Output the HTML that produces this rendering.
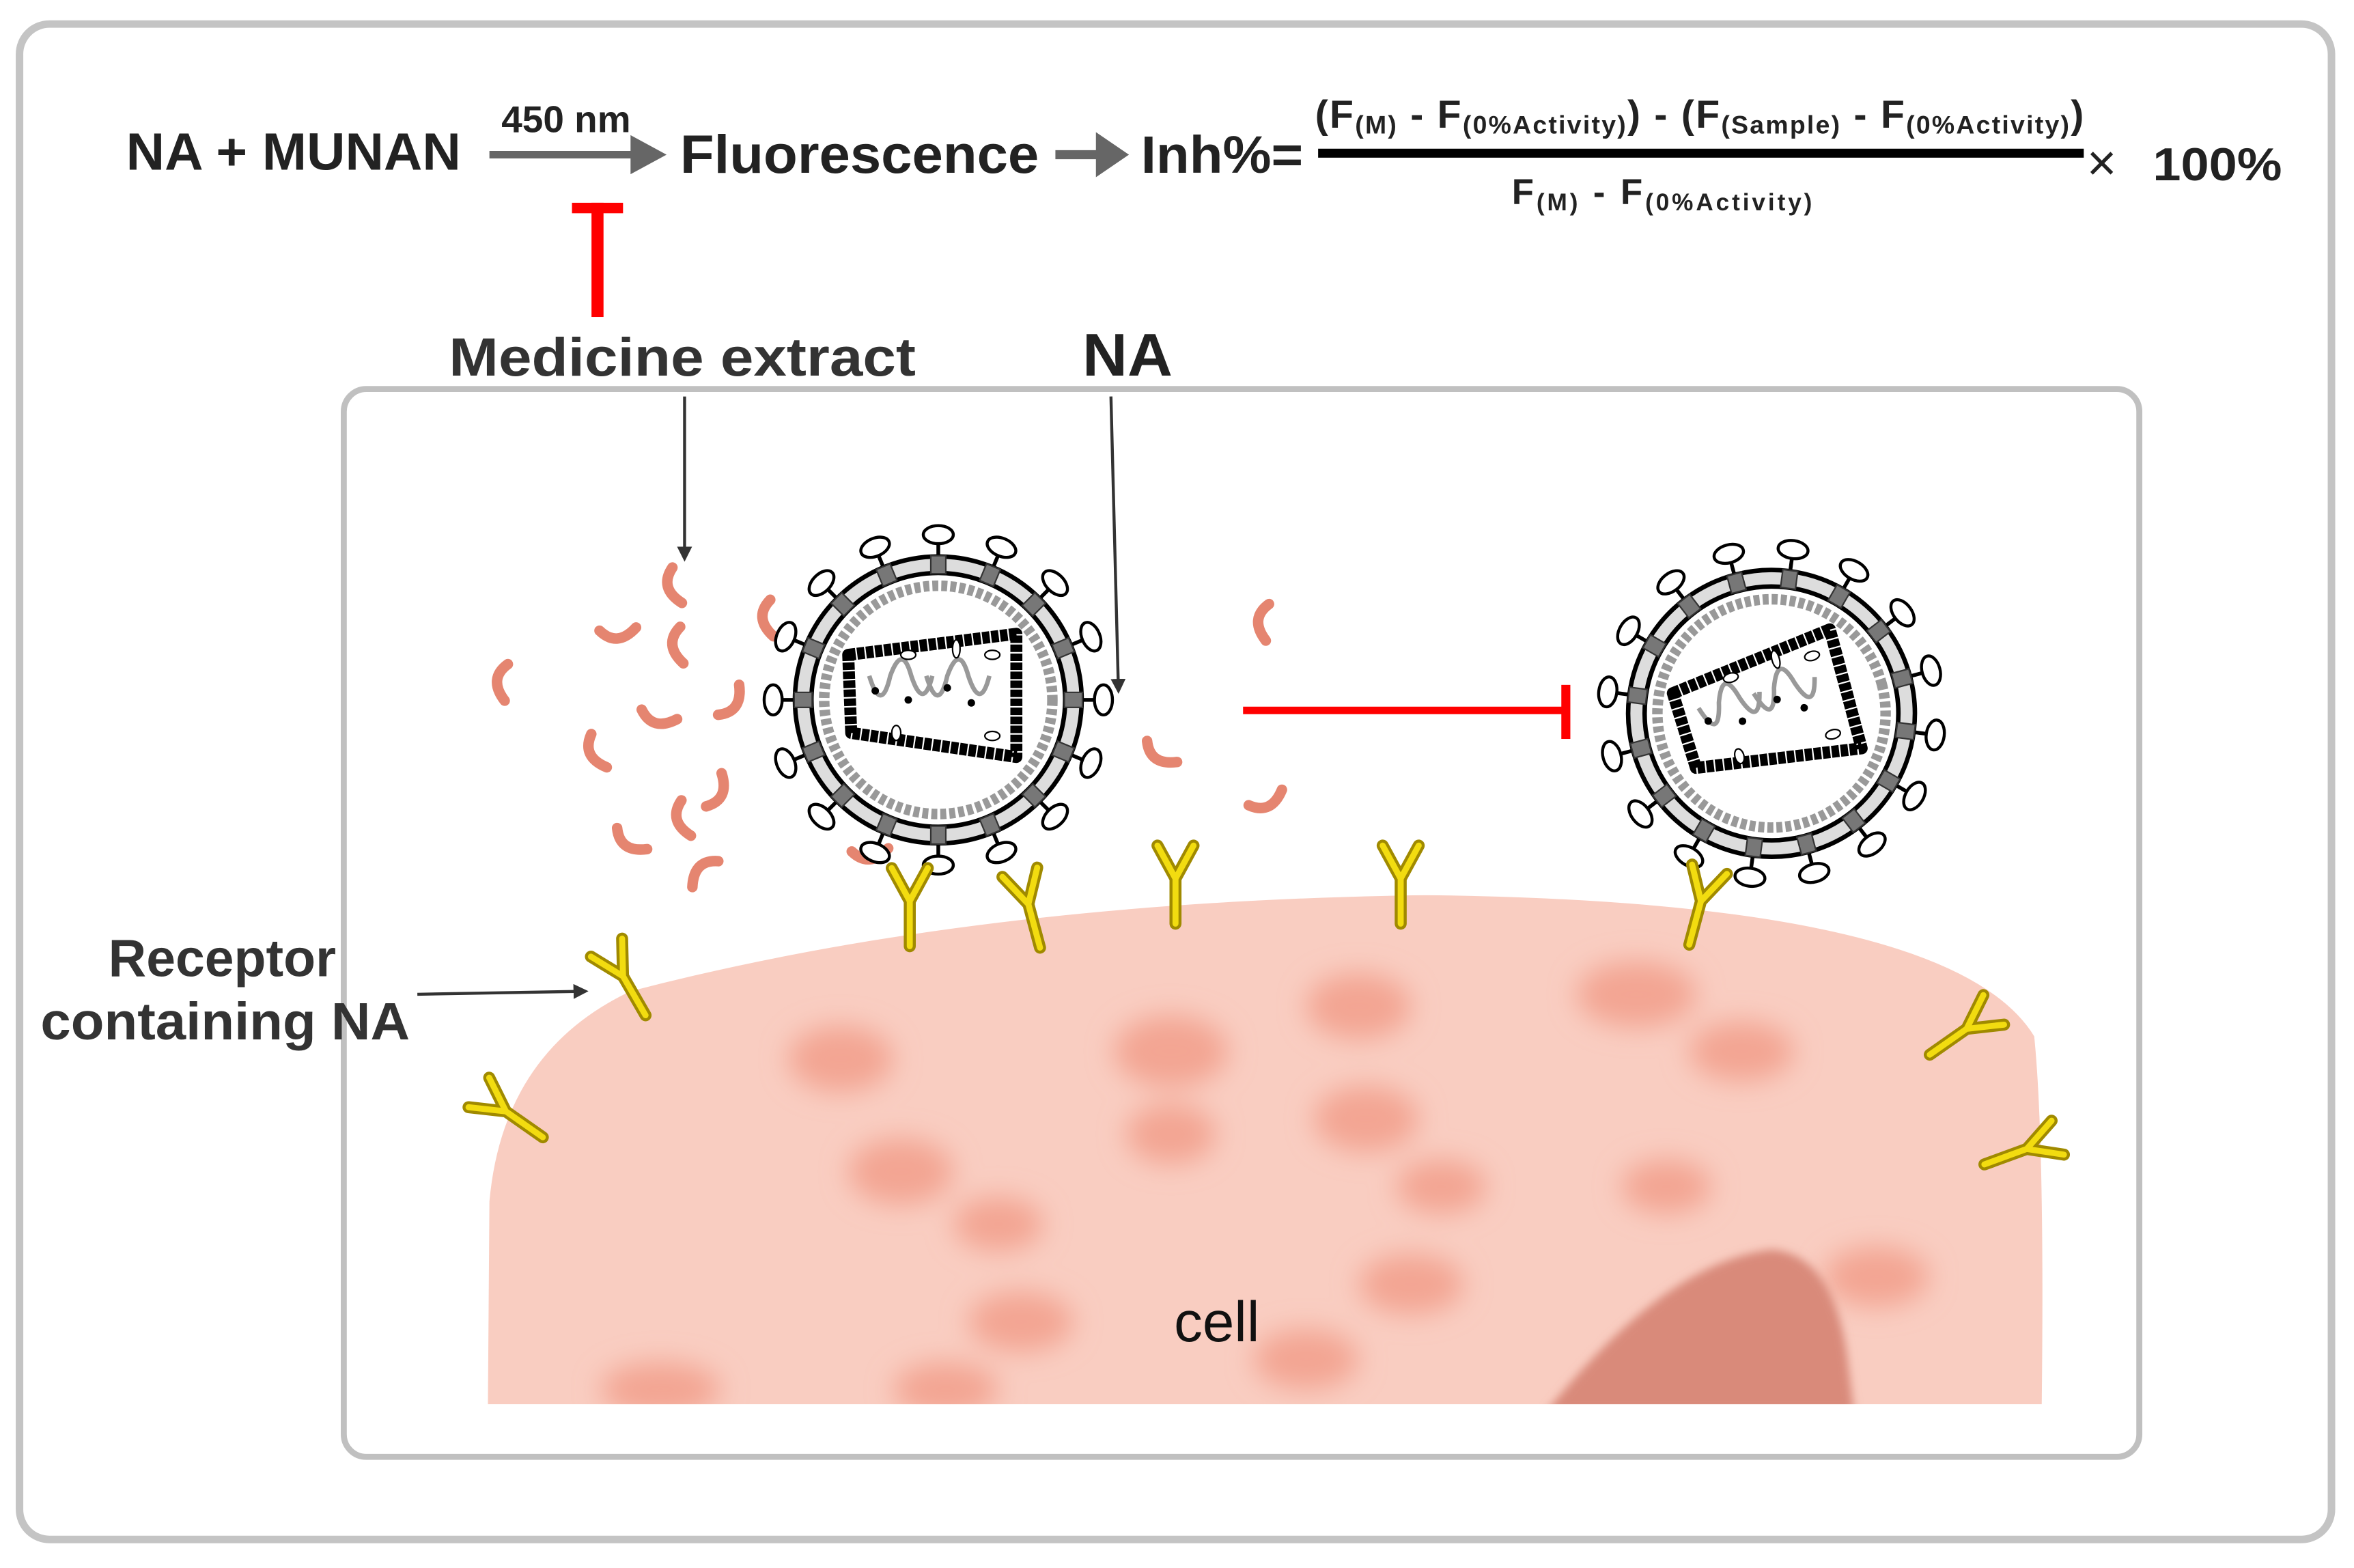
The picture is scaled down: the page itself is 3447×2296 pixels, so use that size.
<!DOCTYPE html>
<html><head><meta charset="utf-8"><style>html,body{margin:0;padding:0;background:#fff}svg{display:block}</style></head><body>
<svg width="3447" height="2296" viewBox="0 0 1568 1044" preserveAspectRatio="none" xmlns="http://www.w3.org/2000/svg" font-family="Liberation Sans, Arial, sans-serif">
<defs>
<filter id="bl" x="-50%" y="-50%" width="200%" height="200%"><feGaussianBlur stdDeviation="9"/></filter>
<filter id="bl2"><feGaussianBlur stdDeviation="3"/></filter>
<marker id="ah" markerWidth="10" markerHeight="10" refX="8" refY="5" orient="auto" markerUnits="userSpaceOnUse"><path d="M0,0 L10,5 L0,10 Z" fill="#333"/></marker>
<g id="spike"><line x1="0" y1="-94" x2="0" y2="-104" stroke="#000" stroke-width="2.5"/><ellipse cx="0" cy="-110" rx="10" ry="6" fill="#fff" stroke="#000" stroke-width="2"/><rect x="-5" y="-96" width="10" height="12" fill="#777" stroke="#333"/></g>
<g id="virus">
<circle r="90" fill="#fff" stroke="#000" stroke-width="14"/>
<circle r="90" fill="none" stroke="#ddd" stroke-width="8"/>
<circle r="76" fill="none" stroke="#999" stroke-width="7" stroke-dasharray="4 2"/>
<use href="#spike" transform="rotate(0)"/><use href="#spike" transform="rotate(22.5)"/><use href="#spike" transform="rotate(45)"/><use href="#spike" transform="rotate(67.5)"/><use href="#spike" transform="rotate(90)"/><use href="#spike" transform="rotate(112.5)"/><use href="#spike" transform="rotate(135)"/><use href="#spike" transform="rotate(157.5)"/><use href="#spike" transform="rotate(180)"/><use href="#spike" transform="rotate(202.5)"/><use href="#spike" transform="rotate(225)"/><use href="#spike" transform="rotate(247.5)"/><use href="#spike" transform="rotate(270)"/><use href="#spike" transform="rotate(292.5)"/><use href="#spike" transform="rotate(315)"/><use href="#spike" transform="rotate(337.5)"/>
<polygon points="-60,-30 52,-44 52,38 -58,22" fill="none" stroke="#000" stroke-width="8" stroke-dasharray="5 1" stroke-linejoin="round"/>
<path d="M-46,-16 q8,26 14,0 q8,-22 14,0 q8,24 14,0 M-8,-16 q8,26 14,0 q8,-22 14,0 q8,24 14,0" fill="none" stroke="#999" stroke-width="3"/>
<circle cx="-42" cy="-6" r="2.5"/><circle cx="-20" cy="0" r="2.5"/><circle cx="6" cy="-8" r="2.5"/><circle cx="22" cy="2" r="2.5"/>
<ellipse cx="-20" cy="-30" rx="5" ry="3" fill="#fff" stroke="#000"/><ellipse cx="12" cy="-34" rx="2.5" ry="6" fill="#fff" stroke="#000"/><ellipse cx="36" cy="-30" rx="5" ry="3" fill="#fff" stroke="#000"/><ellipse cx="-28" cy="22" rx="3" ry="5" fill="#fff" stroke="#000"/><ellipse cx="36" cy="24" rx="5" ry="3" fill="#fff" stroke="#000"/>
</g>
<g id="rec"><path d="M0,30 L0,0 L-12,-22 M0,0 L12,-22" fill="none" stroke="#a08a00" stroke-width="8" stroke-linecap="round"/><path d="M0,30 L0,0 L-12,-22 M0,0 L12,-22" fill="none" stroke="#f2dc10" stroke-width="4" stroke-linecap="round"/></g>
<path id="cr" d="M-8,-10 Q-12,6 6,10" fill="none" stroke="#e58570" stroke-width="7" stroke-linecap="round"/>
</defs>
<rect x="13" y="16" width="1540" height="1009" rx="20" fill="#fff" stroke="#c4c4c4" stroke-width="5"/>
<g font-weight="bold" fill="#222">
<text x="84" y="113" font-size="35" textLength="223" lengthAdjust="spacingAndGlyphs">NA + MUNAN</text>
<text x="334" y="88" font-size="25">450 nm</text>
<line x1="326" y1="103" x2="425" y2="103" stroke="#666" stroke-width="5"/><path d="M420,90 L444,103 L420,116 Z" fill="#666"/>
<text x="453" y="115" font-size="36" textLength="239" lengthAdjust="spacingAndGlyphs">Fluorescence</text>
<line x1="703" y1="103" x2="735" y2="103" stroke="#666" stroke-width="6"/><path d="M730,88 L752,103 L730,118 Z" fill="#666"/>
<text x="760" y="115" font-size="35" textLength="108" lengthAdjust="spacingAndGlyphs">Inh%=</text>
<text x="876" y="85" font-size="26" textLength="512" lengthAdjust="spacing">(F<tspan font-size="17" dy="4">(M)</tspan><tspan dy="-4"> - F</tspan><tspan font-size="17" dy="4">(0%Activity)</tspan><tspan dy="-4">) - (F</tspan><tspan font-size="17" dy="4">(Sample)</tspan><tspan dy="-4"> - F</tspan><tspan font-size="17" dy="4">(0%Activity)</tspan><tspan dy="-4">)</tspan></text>
<line x1="878" y1="102" x2="1388" y2="102" stroke="#000" stroke-width="6"/>
<text x="1007" y="136" font-size="24" textLength="200" lengthAdjust="spacing">F<tspan font-size="16" dy="4">(M)</tspan><tspan dy="-4"> - F</tspan><tspan font-size="16" dy="4">(0%Activity)</tspan></text>
<text x="1390" y="120" font-size="34" font-weight="normal">×</text>
<text x="1434" y="120" font-size="31" textLength="86" lengthAdjust="spacingAndGlyphs">100%</text>
</g>
<rect x="381" y="135" width="34" height="7" fill="#f00"/><rect x="394" y="135" width="8" height="76" fill="#f00"/>
<text x="299" y="250" font-size="36" font-weight="bold" fill="#333" textLength="311" lengthAdjust="spacingAndGlyphs">Medicine extract</text>
<text x="721" y="250" font-size="40" font-weight="bold" fill="#222" textLength="60" lengthAdjust="spacingAndGlyphs">NA</text>
<rect x="229" y="259" width="1196" height="711" rx="15" fill="#fff" stroke="#c0c0c0" stroke-width="4"/>
<clipPath id="cc"><path d="M325,935 L326,800 Q335,700 420,660 Q650,600 950,596 Q1300,600 1355,690 Q1362,760 1360,935 Z"/></clipPath>
<g clip-path="url(#cc)">
<rect x="320" y="590" width="1050" height="350" fill="#f9cdc1"/>
<g fill="#f3a593" filter="url(#bl)">
<ellipse cx="560" cy="705" rx="35" ry="22"/><ellipse cx="780" cy="700" rx="38" ry="24"/><ellipse cx="905" cy="670" rx="35" ry="22"/><ellipse cx="1090" cy="662" rx="40" ry="22"/><ellipse cx="1160" cy="700" rx="35" ry="20"/><ellipse cx="600" cy="780" rx="35" ry="22"/><ellipse cx="780" cy="755" rx="30" ry="20"/><ellipse cx="910" cy="745" rx="35" ry="22"/><ellipse cx="960" cy="790" rx="30" ry="18"/><ellipse cx="665" cy="815" rx="30" ry="18"/><ellipse cx="1110" cy="790" rx="30" ry="18"/><ellipse cx="940" cy="855" rx="35" ry="20"/><ellipse cx="680" cy="880" rx="35" ry="20"/><ellipse cx="870" cy="905" rx="35" ry="20"/><ellipse cx="1250" cy="850" rx="35" ry="20"/><ellipse cx="440" cy="925" rx="40" ry="18"/><ellipse cx="630" cy="925" rx="35" ry="18"/>
</g>
<path d="M1030,940 Q1110,840 1180,832 Q1220,835 1230,900 L1235,940 Z" fill="#d98a7a" filter="url(#bl2)"/>
</g>
<text x="782" y="893" font-size="38" fill="#111">cell</text>
<line x1="456" y1="264" x2="456" y2="372" stroke="#333" stroke-width="2" marker-end="url(#ah)"/>
<line x1="740" y1="264" x2="745" y2="460" stroke="#333" stroke-width="2" marker-end="url(#ah)"/>
<line x1="278" y1="662" x2="390" y2="660" stroke="#333" stroke-width="2" marker-end="url(#ah)"/>
<text x="148" y="650" font-size="35" font-weight="bold" fill="#333" text-anchor="middle">Receptor</text>
<text x="150" y="692" font-size="35" font-weight="bold" fill="#333" text-anchor="middle" textLength="246" lengthAdjust="spacingAndGlyphs">containing NA</text>
<use href="#cr" transform="translate(452,390) rotate(20)"/><use href="#cr" transform="translate(412,418) rotate(-60)"/><use href="#cr" transform="translate(455,430) rotate(30)"/><use href="#cr" transform="translate(338,455) rotate(40)"/><use href="#cr" transform="translate(440,475) rotate(-40)"/><use href="#cr" transform="translate(485,465) rotate(-110)"/><use href="#cr" transform="translate(400,500) rotate(10)"/><use href="#cr" transform="translate(475,525) rotate(-120)"/><use href="#cr" transform="translate(458,545) rotate(20)"/><use href="#cr" transform="translate(422,558) rotate(-20)"/><use href="#cr" transform="translate(470,583) rotate(80)"/><use href="#cr" transform="translate(515,412) rotate(30)"/><use href="#cr" transform="translate(845,415) rotate(40)"/><use href="#cr" transform="translate(775,500) rotate(-20)"/><use href="#cr" transform="translate(843,530) rotate(-80)"/><use href="#cr" transform="translate(580,565) rotate(-60)"/>
<use href="#virus" transform="translate(625,466)"/>
<use href="#virus" transform="translate(1180,475) rotate(-15)"/>
<line x1="828" y1="473" x2="1042" y2="473" stroke="#f00" stroke-width="5"/><rect x="1040" y="456" width="6" height="36" fill="#f00"/>
<use href="#rec" transform="translate(606,600)"/><use href="#rec" transform="translate(685,602) rotate(-15)"/><use href="#rec" transform="translate(783,585)"/><use href="#rec" transform="translate(933,585)"/><use href="#rec" transform="translate(1133,600) rotate(15)"/><use href="#rec" transform="translate(415,650) rotate(-30)"/><use href="#rec" transform="translate(337,740) rotate(-55)"/><use href="#rec" transform="translate(1310,685) rotate(55)"/><use href="#rec" transform="translate(1350,765) rotate(70)"/>
</svg>
</body></html>
